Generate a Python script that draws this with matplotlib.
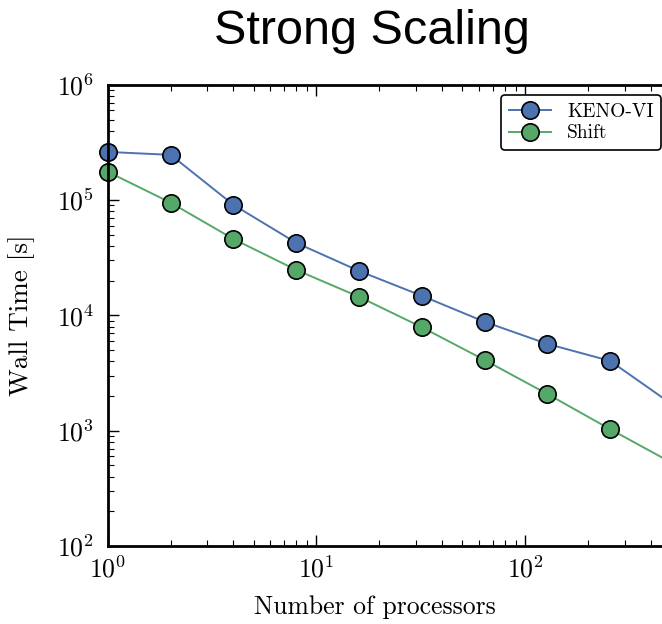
import matplotlib
matplotlib.use("Agg")
import matplotlib.pyplot as plt

# Strong scaling results (wall time in seconds)
procs = [1, 2, 4, 8, 16, 32, 64, 128, 256, 512]
keno_vi = [2.62e5, 2.47e5, 9.1e4, 4.26e4, 2.43e4, 1.48e4, 8.8e3, 5.66e3, 4.03e3, 1.67e3]
shift = [1.76e5, 9.5e4, 4.6e4, 2.48e4, 1.45e4, 7.9e3, 4.1e3, 2.08e3, 1.03e3, 5.2e2]

plt.rcParams["font.family"] = "serif"
plt.rcParams["font.serif"] = ["cmr10", "DejaVu Serif"]
plt.rcParams["mathtext.fontset"] = "cm"
plt.rcParams["axes.formatter.use_mathtext"] = True

fig = plt.figure(figsize=(6.62, 6.24), dpi=100)
ax = fig.add_axes([0.163, 0.125, 0.837 + 0.02, 0.739])

ax.plot(procs, keno_vi, "-o", color="#4C72B0", mfc="#4C72B0", mec="black",
        mew=1.2, ms=12.5, lw=1.4, label="KENO-VI", clip_on=False)
ax.plot(procs, shift, "-o", color="#55A868", mfc="#55A868", mec="black",
        mew=1.2, ms=12.5, lw=1.4, label="Shift", clip_on=False)

ax.set_xscale("log")
ax.set_yscale("log")
ax.set_xlim(1, 10 ** 2.72)
ax.set_ylim(1e2, 1e6)

for side in ["left", "bottom", "top"]:
    ax.spines[side].set_linewidth(2)
ax.spines["right"].set_visible(False)

ax.tick_params(which="both", direction="in", top=True, right=False, labelsize=18.5)
ax.tick_params(which="major", length=8, width=1)
ax.tick_params(which="minor", length=4, width=0.8)
ax.tick_params(axis="x", which="major", pad=7)
ax.tick_params(axis="y", which="major", pad=10)

ax.set_xlabel("Number of processors", fontsize=18.5)
ax.xaxis.set_label_coords(0.471, -0.107)
ax.set_ylabel("Wall Time [s]", fontsize=19.5)
ax.yaxis.set_label_coords(-0.128, 0.5)

leg = ax.legend(loc="upper right", bbox_to_anchor=(0.999, 0.848), bbox_transform=fig.transFigure,
                borderaxespad=0, fontsize=14, frameon=True, fancybox=True, numpoints=1,
                handlelength=2.2, borderpad=0.4, labelspacing=0.2)
leg.get_frame().set_edgecolor("black")
leg.get_frame().set_linewidth(1.2)
leg.get_frame().set_alpha(1)

fig.text(0.562, 0.95, "Strong Scaling", fontsize=35, family="Liberation Sans",
         ha="center", va="center")

fig.savefig("out.png", dpi=100)
